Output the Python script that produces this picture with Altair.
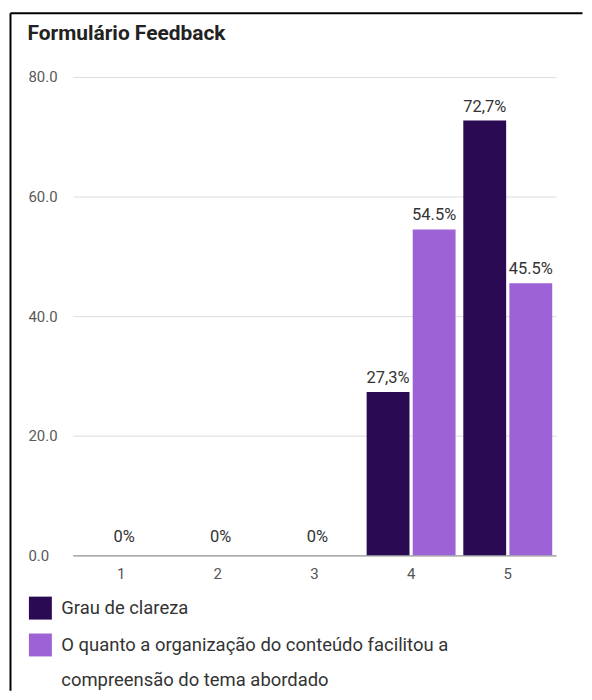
import altair as alt
import pandas as pd

categories = ["1", "2", "3", "4", "5"]
series_names = [
    "Grau de clareza",
    "O quanto a organização do conteúdo facilitou a compreensão do tema abordado",
]
grau_values = [0, 0, 0, 27.3, 72.7]
organizacao_values = [0, 0, 0, 54.5, 45.5]
grau_labels = ["0%", "0%", "0%", "27,3%", "72,7%"]
organizacao_labels = ["", "", "", "54.5%", "45.5%"]
y_ticks = [0, 20, 40, 60, 80]

rows = []
for i, c in enumerate(categories):
    rows.append({"cat": c, "serie": series_names[0], "ord": 0, "valor": grau_values[i], "rotulo": grau_labels[i]})
    rows.append({"cat": c, "serie": series_names[1], "ord": 1, "valor": organizacao_values[i], "rotulo": organizacao_labels[i]})
df = pd.DataFrame(rows)

FONT = "Roboto"
DARK = "#2a0a52"
LIGHT = "#9d63d6"

x_enc = alt.X("cat:N", sort=categories, title=None,
              scale=alt.Scale(paddingInner=0.08, paddingOuter=0.04),
              axis=alt.Axis(labelAngle=0, ticks=False, labelPadding=11, labelFontSize=15,
                            labelColor="#555555", labelFont=FONT,
                            domainColor="#9a9a9a", domainWidth=1.2))
y_enc = alt.Y("valor:Q", title=None,
              scale=alt.Scale(domain=[0, 80], nice=False),
              axis=alt.Axis(values=y_ticks, format=".1f", domain=False, ticks=False,
                            labelAlign="left", labelPadding=45, labelFontSize=15,
                            labelColor="#5a5a5a", labelFont=FONT,
                            gridColor="#dddddd", gridWidth=1))
color_enc = alt.Color("serie:N", sort=series_names,
                      scale=alt.Scale(domain=series_names, range=[DARK, LIGHT]),
                      legend=alt.Legend(title=None, orient="none", legendX=-44.5, legendY=521,
                                        direction="vertical", symbolType="square",
                                        symbolSize=530, symbolStrokeWidth=0, symbolOpacity=1,
                                        labelFontSize=18.5, labelColor="#333333", labelFont=FONT,
                                        labelOffset=9, rowPadding=13, padding=0,
                                        labelLimit=600,
                                        labelExpr="datum.label == 'Grau de clareza' ? datum.label : ['O quanto a organização do conteúdo facilitou a', 'compreensão do tema abordado']"))

base = alt.Chart(df)

bars = base.mark_bar(stroke=None).encode(
    x=x_enc,
    xOffset=alt.XOffset("ord:O", scale=alt.Scale(paddingInner=0.07)),
    y=y_enc,
    color=color_enc,
)

labels_pos = base.transform_filter("datum.valor > 0").mark_text(
    baseline="bottom", dy=-6, fontSize=16.5, color="#333333", font=FONT
).encode(
    x=alt.X("cat:N", sort=categories),
    xOffset=alt.XOffset("ord:O"),
    y=alt.Y("valor:Q"),
    text="rotulo:N",
)

labels_zero = base.transform_filter("datum.valor == 0 && datum.rotulo != ''").mark_text(
    baseline="bottom", dy=-10, dx=3, fontSize=16.5, color="#333333", font=FONT
).encode(
    x=alt.X("cat:N", sort=categories),
    y=alt.Y("valor:Q"),
    text="rotulo:N",
)

one = alt.Data(values=[{"k": 1}])
border_v = alt.Chart(one).mark_rule(color="#000000", strokeWidth=2).encode(
    x=alt.value(-62.5), y=alt.value(-64), y2=alt.value(616))
border_h = alt.Chart(one).mark_rule(color="#000000", strokeWidth=2).encode(
    x=alt.value(-62.5), x2=alt.value(511.5), y=alt.value(-64))

chart = alt.layer(bars, labels_pos, labels_zero, border_v, border_h).properties(
    width=485, height=480,
    padding={"left": 1, "top": 3, "right": 0, "bottom": 0},
    title=alt.TitleParams("Formulário Feedback", anchor="start", frame="group",
                          dx=-45.5, offset=-32, fontSize=21, fontWeight="bold",
                          font=FONT, color="#222222"),
).configure(
    style={"guide-label": {"lineHeight": 35}}
).configure_view(stroke="transparent", strokeWidth=0)

chart.save("out.html", embed_options={"renderer": "svg", "actions": False})
